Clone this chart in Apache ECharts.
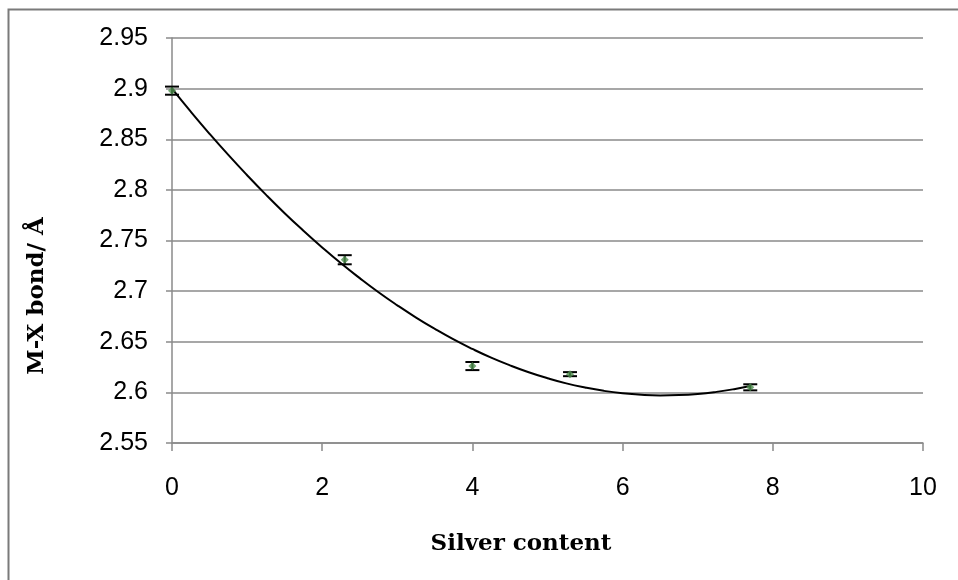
<!DOCTYPE html>
<html><head><meta charset="utf-8">
<script src="https://cdn.jsdelivr.net/npm/echarts@6/dist/echarts.min.js"></script>
<style>html,body{margin:0;padding:0;background:#fff}#c{width:958px;height:580px}</style>
</head><body><div id="c"></div>
<script>
// Measured data points (silver content vs M-X bond length)
const silver = [0, 2.3, 4.0, 5.3, 7.7];
const bond = [2.898, 2.731, 2.626, 2.618, 2.605];
const bondErr = [0.004, 0.0045, 0.004, 0.002, 0.003];
// Trendline
const trendX = [0, 0.25, 0.5, 0.75, 1, 1.25, 1.5, 1.75, 2, 2.25, 2.5, 2.75, 3, 3.25, 3.5, 3.75, 4, 4.25, 4.5, 4.75, 5, 5.25, 5.5, 5.75, 6, 6.25, 6.5, 6.75, 7, 7.25, 7.5, 7.7];
const trendY = [2.8999, 2.8772, 2.8554, 2.8345, 2.8145, 2.7953, 2.7770, 2.7597, 2.7432, 2.7275, 2.7128, 2.6989, 2.6860, 2.6739, 2.6627, 2.6523, 2.6429, 2.6343, 2.6267, 2.6199, 2.6140, 2.6089, 2.6048, 2.6015, 2.5991, 2.5976, 2.5970, 2.5973, 2.5984, 2.6005, 2.6034, 2.6063];
const xTitle = 'Silver content';
const yTitle = 'M-X bond/ Å';

const chart = echarts.init(document.getElementById('c'));
const grey = '#8a8a8a';
const pts = silver.map((x, i) => [x, bond[i]]);
const errData = silver.map((x, i) => [x, bond[i] - bondErr[i], bond[i] + bondErr[i]]);
const trend = trendX.map((x, i) => [x, trendY[i]]);

chart.setOption({
  animation: false,
  backgroundColor: '#fff',
  grid: { left: 172, right: 35, top: 38, bottom: 137, containLabel: false },
  xAxis: {
    type: 'value', min: 0, max: 10, interval: 2,
    axisLine: { show: true, onZero: false, lineStyle: { color: grey, width: 1.5 } },
    axisTick: { show: true, inside: false, length: 8, lineStyle: { color: grey, width: 1.5 } },
    axisLabel: { color: '#000', fontFamily: 'Liberation Sans', fontSize: 25, margin: 33 },
    splitLine: { show: false }
  },
  yAxis: {
    type: 'value', min: 2.55, max: 2.95, interval: 0.05,
    axisLine: { show: true, lineStyle: { color: grey, width: 1.5 } },
    axisTick: { show: true, inside: false, length: 6, lineStyle: { color: grey, width: 1.5 } },
    axisLabel: { color: '#000', fontFamily: 'Liberation Sans', fontSize: 25, margin: 24,
      formatter: v => String(parseFloat(v.toFixed(2))) },
    splitLine: { show: true, lineStyle: { color: grey, width: 1.5 } }
  },
  graphic: [
    { type: 'rect', silent: true, z: -10, shape: { x: 8.5, y: 9.5, width: 2000, height: 2000 },
      style: { fill: 'none', stroke: '#7a7a7a', lineWidth: 2 } },
    { type: 'text', x: 521, y: 544,
      style: { text: xTitle, align: 'center', verticalAlign: 'middle', font: 'bold 23px "DejaVu Serif"', fill: '#000' } },
    { type: 'text', rotation: Math.PI / 2, x: 37, y: 296,
      style: { text: yTitle, align: 'center', verticalAlign: 'middle', font: 'bold 23px "DejaVu Serif"', fill: '#000' } }
  ],
  series: [
    { type: 'line', data: trend, smooth: 0.5, showSymbol: false, symbol: 'none',
      lineStyle: { color: '#000', width: 2 }, z: 3 },
    { type: 'custom', data: errData, z: 4,
      renderItem: (params, api) => {
        const x = api.value(0);
        const lo = api.coord([x, api.value(1)]);
        const hi = api.coord([x, api.value(2)]);
        const w = 7;
        const st = { stroke: '#000', lineWidth: 2 };
        return { type: 'group', children: [
          { type: 'line', shape: { x1: lo[0], y1: lo[1], x2: hi[0], y2: hi[1] }, style: st },
          { type: 'line', shape: { x1: lo[0] - w, y1: lo[1], x2: lo[0] + w, y2: lo[1] }, style: st },
          { type: 'line', shape: { x1: hi[0] - w, y1: hi[1], x2: hi[0] + w, y2: hi[1] }, style: st }
        ]};
      }
    },
    { type: 'scatter', data: pts, symbol: 'diamond', symbolSize: 8, z: 5,
      itemStyle: { color: '#4e8f4e' } }
  ]
});
</script></body></html>
